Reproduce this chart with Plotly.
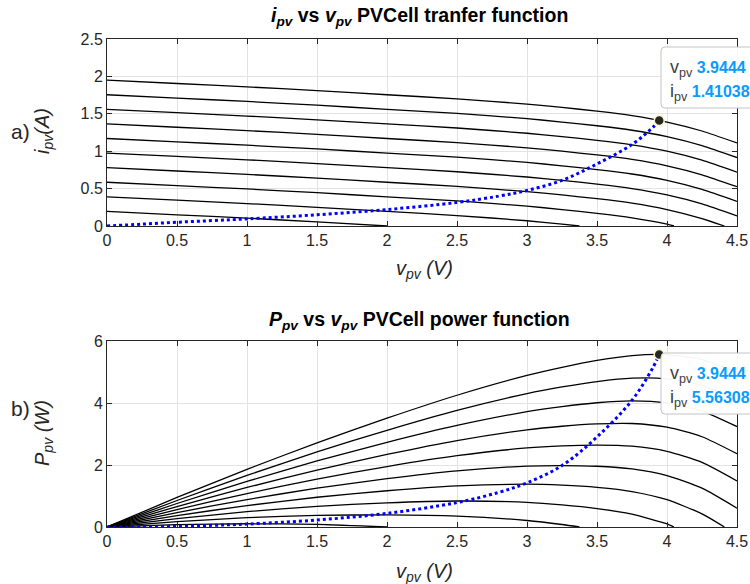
import plotly.graph_objects as go

# ---------------- data ----------------
v_grid = [0, 0.5, 1.0, 1.5, 2.0, 2.5, 3.0, 3.25, 3.5, 3.75, 4.0, 4.25, 4.5]

# I-V curves, one per irradiance level (A); shorter curves end at their Voc
curve_v = {
    "c10": v_grid,
    "c9": v_grid,
    "c8": v_grid,
    "c7": v_grid,
    "c6": v_grid,
    "c5": v_grid,
    "c4": [0, 0.5, 1.0, 1.5, 2.0, 2.5, 3.0, 3.25, 3.5, 3.75, 4.0, 4.25, 4.41],
    "c3": [0, 0.5, 1.0, 1.5, 2.0, 2.5, 3.0, 3.25, 3.5, 3.75, 4.0, 4.05],
    "c2": [0, 0.5, 1.0, 1.5, 2.0, 2.5, 3.0, 3.25, 3.375],
    "c1": [0, 0.5, 1.0, 1.5, 2.0],
}
curve_i = {
    "c10": [1.95, 1.905, 1.86, 1.81, 1.755, 1.70, 1.63, 1.585, 1.535, 1.475, 1.39, 1.27, 1.11],
    "c9": [1.755, 1.71, 1.665, 1.615, 1.56, 1.505, 1.435, 1.39, 1.34, 1.28, 1.195, 1.075, 0.915],
    "c8": [1.56, 1.515, 1.47, 1.42, 1.365, 1.31, 1.24, 1.195, 1.145, 1.085, 1.0, 0.88, 0.72],
    "c7": [1.365, 1.32, 1.275, 1.225, 1.17, 1.115, 1.045, 1.0, 0.95, 0.89, 0.805, 0.685, 0.525],
    "c6": [1.17, 1.125, 1.08, 1.03, 0.975, 0.92, 0.85, 0.805, 0.755, 0.695, 0.61, 0.49, 0.33],
    "c5": [0.975, 0.93, 0.885, 0.835, 0.78, 0.725, 0.655, 0.61, 0.56, 0.50, 0.415, 0.295, 0.135],
    "c4": [0.78, 0.735, 0.69, 0.64, 0.585, 0.53, 0.46, 0.415, 0.365, 0.305, 0.22, 0.10, 0.0],
    "c3": [0.585, 0.54, 0.495, 0.445, 0.39, 0.335, 0.265, 0.22, 0.17, 0.11, 0.025, 0.0],
    "c2": [0.39, 0.345, 0.30, 0.25, 0.195, 0.14, 0.07, 0.025, 0.0],
    "c1": [0.195, 0.15, 0.105, 0.055, 0.0],
}
# power curves (W), lower panel, same voltage samples
curve_p = {
    "c10": [0, 0.953, 1.86, 2.715, 3.51, 4.25, 4.89, 5.151, 5.373, 5.531, 5.56, 5.398, 4.995],
    "c9": [0, 0.855, 1.665, 2.423, 3.12, 3.763, 4.305, 4.518, 4.69, 4.80, 4.78, 4.569, 4.118],
    "c8": [0, 0.758, 1.47, 2.13, 2.73, 3.275, 3.72, 3.884, 4.008, 4.069, 4.0, 3.74, 3.24],
    "c7": [0, 0.66, 1.275, 1.838, 2.34, 2.788, 3.135, 3.25, 3.325, 3.338, 3.22, 2.911, 2.363],
    "c6": [0, 0.563, 1.08, 1.545, 1.95, 2.30, 2.55, 2.616, 2.643, 2.606, 2.44, 2.083, 1.485],
    "c5": [0, 0.465, 0.885, 1.253, 1.56, 1.813, 1.965, 1.983, 1.96, 1.875, 1.66, 1.254, 0.608],
    "c4": [0, 0.368, 0.69, 0.96, 1.17, 1.325, 1.38, 1.349, 1.278, 1.144, 0.88, 0.425, 0.0],
    "c3": [0, 0.27, 0.495, 0.668, 0.78, 0.838, 0.795, 0.715, 0.595, 0.413, 0.10, 0.0],
    "c2": [0, 0.173, 0.30, 0.375, 0.39, 0.35, 0.21, 0.081, 0.0],
    "c1": [0, 0.075, 0.105, 0.083, 0.0],
}

# operating-point trajectory (blue dotted)
traj_v = [0, 0.25, 0.5, 0.75, 1.0, 1.5, 2.0, 2.5, 2.8, 3.0, 3.25, 3.5, 3.75, 3.9, 3.9444]
traj_i = [0, 0.025, 0.05, 0.072, 0.095, 0.15, 0.22, 0.315, 0.40, 0.475, 0.61, 0.83, 1.09, 1.32, 1.41038]
traj_p = [0, 0.006, 0.025, 0.054, 0.095, 0.225, 0.44, 0.788, 1.12, 1.425, 1.983, 2.905, 4.088, 5.148, 5.56308]

mpp_v = 3.9444
mpp_i = 1.41038
mpp_p = 5.56308

x_ticks = [0, 0.5, 1, 1.5, 2, 2.5, 3, 3.5, 4, 4.5]
x_ticklabels = ["0", "0.5", "1", "1.5", "2", "2.5", "3", "3.5", "4", "4.5"]
y1_ticks = [0, 0.5, 1, 1.5, 2, 2.5]
y1_ticklabels = ["0", "0.5", "1", "1.5", "2", "2.5"]
y2_ticks = [0, 2, 4, 6]
y2_ticklabels = ["0", "2", "4", "6"]

# ---------------- figure ----------------
W, H = 750, 584
ML, MR, MT, MB = 107, 13, 39, 57
PW, PH = W - ML - MR, H - MT - MB

def px_x(px):
    return (px - ML) / PW

def px_y(py):
    return 1 - (py - MT) / PH

FONT = "Liberation Sans, Arial, Helvetica, sans-serif"
INK = "#262626"

fig = go.Figure()

for key in curve_v:
    fig.add_trace(go.Scatter(x=curve_v[key], y=curve_i[key], mode="lines",
                             line=dict(color="black", width=1.3, shape="spline", smoothing=0.6),
                             xaxis="x", yaxis="y", showlegend=False, hoverinfo="skip"))
    fig.add_trace(go.Scatter(x=curve_v[key], y=curve_p[key], mode="lines",
                             line=dict(color="black", width=1.3, shape="spline", smoothing=0.6),
                             xaxis="x2", yaxis="y2", showlegend=False, hoverinfo="skip"))

fig.add_trace(go.Scatter(x=traj_v, y=traj_i, mode="lines",
                         line=dict(color="#0000ff", width=3, dash="3px,3px", shape="spline"),
                         xaxis="x", yaxis="y", showlegend=False))
fig.add_trace(go.Scatter(x=traj_v, y=traj_p, mode="lines",
                         line=dict(color="#0000ff", width=3, dash="3px,3px", shape="spline"),
                         xaxis="x2", yaxis="y2", showlegend=False))

for ya, yv in (("y", mpp_i), ("y2", mpp_p)):
    fig.add_trace(go.Scatter(x=[mpp_v], y=[yv], mode="markers",
                             marker=dict(size=10, color="#262626", line=dict(color="#fbf6c8", width=1.5)),
                             xaxis="x" if ya == "y" else "x2", yaxis=ya, showlegend=False))

top_dom = [px_y(226), px_y(39)]
bot_dom = [px_y(527), px_y(341)]

axis_common = dict(
    showline=True, linecolor=INK, linewidth=1, mirror="allticks",
    ticks="inside", ticklen=5, tickcolor=INK,
    showgrid=True, gridcolor="#e3e3e3", gridwidth=1,
    zeroline=False, tickfont=dict(family=FONT, size=16, color=INK),
    fixedrange=True,
)

fig.update_layout(
    width=W, height=H,
    margin=dict(l=ML, r=MR, t=MT, b=MB, autoexpand=False),
    paper_bgcolor="white", plot_bgcolor="white",
    xaxis=dict(domain=[0, 1], anchor="y", range=[0, 4.5], tickvals=x_ticks,
               ticktext=x_ticklabels, **axis_common),
    yaxis=dict(domain=top_dom, anchor="x", range=[0, 2.5], tickvals=y1_ticks,
               ticktext=y1_ticklabels, **axis_common),
    xaxis2=dict(domain=[0, 1], anchor="y2", range=[0, 4.5], tickvals=x_ticks,
                ticktext=x_ticklabels, **axis_common),
    yaxis2=dict(domain=bot_dom, anchor="x2", range=[0, 6], tickvals=y2_ticks,
                ticktext=y2_ticklabels, **axis_common),
    showlegend=False,
)

ann = []
TITLE_FONT = dict(family=FONT, size=19.5, color="black")
ann.append(dict(text="<b><i>i<sub>pv</sub></i> vs <i>v<sub>pv</sub></i> PVCell tranfer function</b>",
                xref="paper", yref="paper", x=px_x(419), y=px_y(17), xanchor="center", yanchor="middle",
                showarrow=False, font=TITLE_FONT))
ann.append(dict(text="<b><i>P<sub>pv</sub></i> vs <i>v<sub>pv</sub></i> PVCell power function</b>",
                xref="paper", yref="paper", x=px_x(419), y=px_y(320), xanchor="center", yanchor="middle",
                showarrow=False, font=TITLE_FONT))
LBL_FONT = dict(family=FONT, size=20, color=INK)
ann.append(dict(text="<i>v<sub>pv</sub> (V)</i>", xref="paper", yref="paper",
                x=px_x(424), y=px_y(269), xanchor="center", yanchor="middle", showarrow=False, font=LBL_FONT))
ann.append(dict(text="<i>v<sub>pv</sub> (V)</i>", xref="paper", yref="paper",
                x=px_x(424), y=px_y(572), xanchor="center", yanchor="middle", showarrow=False, font=LBL_FONT))
ann.append(dict(text="<i>i<sub>pv</sub>(A)</i>", xref="paper", yref="paper", textangle=-90,
                x=px_x(43), y=px_y(131), xanchor="center", yanchor="middle", showarrow=False, font=LBL_FONT))
ann.append(dict(text="<i>P<sub>pv</sub> (W)</i>", xref="paper", yref="paper", textangle=-90,
                x=px_x(43), y=px_y(433), xanchor="center", yanchor="middle", showarrow=False, font=LBL_FONT))
ann.append(dict(text="a)", xref="paper", yref="paper", x=px_x(20), y=px_y(131),
                xanchor="center", yanchor="middle", showarrow=False, font=dict(family=FONT, size=21, color=INK)))
ann.append(dict(text="b)", xref="paper", yref="paper", x=px_x(20), y=px_y(408),
                xanchor="center", yanchor="middle", showarrow=False, font=dict(family=FONT, size=21, color=INK)))

# data tips: rounded box + two text lines each
TIP_FONT = dict(family=FONT, size=16)
shapes = []

def rounded_box(x0p, y0p, x1p, y1p, r=4):
    x0, x1 = px_x(x0p), px_x(x1p)
    y0, y1 = px_y(y0p), px_y(y1p)  # y0 top, y1 bottom (paper)
    rx, ry = r / PW, r / PH
    path = (f"M{x0+rx},{y0} L{x1-rx},{y0} Q{x1},{y0} {x1},{y0-ry} "
            f"L{x1},{y1+ry} Q{x1},{y1} {x1-rx},{y1} L{x0+rx},{y1} "
            f"Q{x0},{y1} {x0},{y1+ry} L{x0},{y0-ry} Q{x0},{y0} {x0+rx},{y0} Z")
    return dict(type="path", xref="paper", yref="paper", path=path,
                fillcolor="rgba(255,255,255,0.96)", line=dict(color="#c4c4c4", width=1))

def tip_line(label, value):
    return (f"<span style='color:#404040;font-size:18px'>{label[0]}<sub>{label[1:]}</sub></span> "
            f"<b><span style='color:#0a9bff'>{value}</span></b>")

for top, vals in ((47, ("3.9444", "1.41038")), (353, ("3.9444", "5.56308"))):
    shapes.append(rounded_box(661, top, 756, top + 61))
    ann.append(dict(text=tip_line("vpv", vals[0]), xref="paper", yref="paper",
                    x=px_x(668), y=px_y(top + 21), xanchor="left", yanchor="middle",
                    showarrow=False, font=TIP_FONT))
    ann.append(dict(text=tip_line("ipv", vals[1]), xref="paper", yref="paper",
                    x=px_x(668), y=px_y(top + 45), xanchor="left", yanchor="middle",
                    showarrow=False, font=TIP_FONT))

fig.update_layout(annotations=ann, shapes=shapes)
fig.write_html("out.html", config={"displayModeBar": False},
               post_script="document.body.style.margin='0';document.body.style.overflow='hidden';")
